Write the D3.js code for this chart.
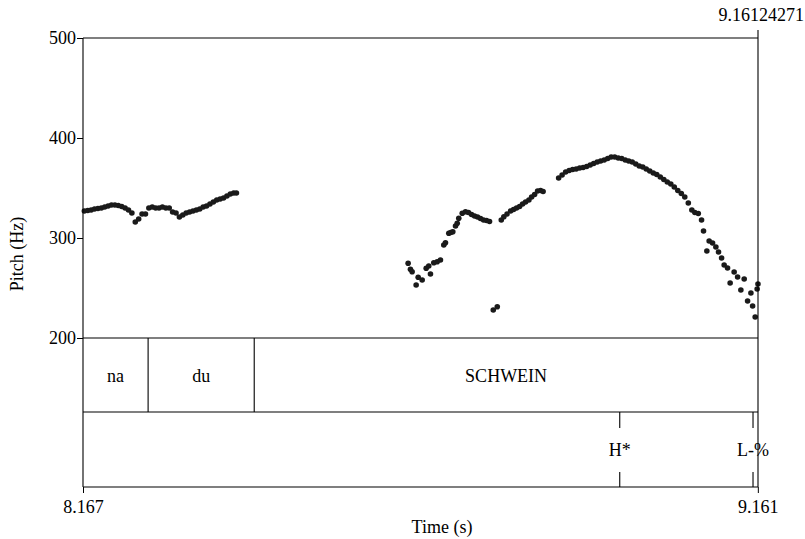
<!DOCTYPE html>
<html><head><meta charset="utf-8">
<script src="https://cdn.jsdelivr.net/npm/d3@7"></script>
<style>body{margin:0;background:#fff}svg{display:block}</style>
</head><body><svg id="c" width="805" height="539"></svg>
<script>
// ---- data ----
const timeDomain = [8.167, 9.16124271];
const pitchTicks = [200, 300, 400, 500];
const timeTicks = [8.167, 9.161];
const endTimeLabel = "9.16124271";

const pitchTime = [
 8.169,8.174,8.179,8.184,8.189,8.194,8.199,8.204,8.209,8.214,8.219,8.224,8.229,8.234,8.239,
 8.244,8.249,8.254,8.259,8.264,8.269,8.274,8.279,8.284,8.289,8.294,8.299,8.304,8.309,8.314,
 8.319,8.324,8.329,8.334,8.339,8.344,8.349,8.354,8.359,8.364,8.369,8.374,8.379,8.384,8.389,8.393,
 8.6459,8.6493,8.6518,8.6577,8.6607,8.6666,8.6725,8.6763,8.6788,8.6837,8.6887,8.6935,8.6984,8.7009,
 8.7058,8.7087,8.7117,8.7157,8.7182,8.7205,8.7256,8.7304,8.7348,8.7393,8.7437,8.7481,8.7525,8.7570,
 8.7614,8.7658,8.7713,8.7772,8.7831,8.7869,8.7916,8.7968,8.8012,8.8056,8.8101,8.8145,8.8189,8.8238,
 8.8278,8.8322,8.8366,8.8410,8.8447,
 8.8676,8.8727,8.8779,8.8831,8.8882,8.8934,8.8986,8.9037,8.9089,8.9141,8.9192,8.9244,8.9295,8.9347,
 8.9399,8.9450,8.9502,8.9554,8.9605,8.9657,8.9708,8.9760,8.9812,8.9863,8.9915,8.9966,9.0018,9.0070,
 9.0121,9.0173,9.0225,9.0276,9.0328,9.0379,9.0431,9.0483,9.0534,9.0586,9.0638,9.0682,9.0733,9.0781,
 9.0810,9.0859,9.0893,9.0943,9.0992,9.1031,9.1076,9.1114,9.1164,9.1202,9.1261,9.1312,9.1360,9.1409,
 9.1459,9.1508,9.1533,9.1571,9.1600,9.1612
];
const pitchHz = [
 327,327.5,328,329,329.5,330,331,332,333,333,332.5,331.5,330,328,325,
 316,319,324,324,330,331,330,330,331,330,330,326,325,321,323,
 325,326,327,328,329,331,332,334,336,338,339,340,342,344,345,345,
 274.7,268.7,266.3,253,260.7,258,269.7,272,264,275.3,276.3,278,293,295.3,
 304.7,305.5,306.3,312,314.7,319.7,324.7,326.3,325.5,323.5,322,321,319.5,318,
 317.5,316.5,228,231.3,318,321.3,324,327,328.5,330,331.5,334,336,338,
 341,343.5,347,347.5,346.5,
 360,363,366,367.5,368.5,369,370,370.5,371.5,373,374.5,376,377,378,
 379.5,381,381,380,379.5,378,377,376,374,372,371,369,367,365,
 363.5,361,358.5,356,354,351,347.5,344.5,341,335,328,325.5,324.5,318,
 307,287,297,295,291,286,280,273,270,255,266,261,248,259,
 237,245,232,221,249,254
];

const wordLabels = ["na", "du", "SCHWEIN"];
const wordStarts = [8.167, 8.2629, 8.4192];
const wordEnds   = [8.2629, 8.4192, 9.16124271];

const toneLabels = ["H*", "L-%"];
const toneTimes  = [8.9576, 9.1539];

// ---- layout ----
const FONT = "'Liberation Serif', 'Times New Roman', Times, 'DejaVu Serif', serif";
const FS = "18px";
const svg = d3.select("#c").style("font-family", FONT);
const L = 83, R = 758, T = 38, P = 338, T1 = 412, B = 487;
const x = d3.scaleLinear().domain(timeDomain).range([L, R]);
const y = d3.scaleLinear().domain([200, 500]).range([P, T]);

const g = svg.append("g");
// pitch dots
g.selectAll("circle.p").data(pitchTime.map((t, i) => [t, pitchHz[i]]))
 .enter().append("circle").attr("class", "p")
 .attr("cx", d => x(d[0])).attr("cy", d => y(d[1])).attr("r", 2.8).attr("fill", "#1a1a1a");

// frame lines
const line = (x1, y1, x2, y2) => g.append("line").attr("x1", x1).attr("y1", y1).attr("x2", x2).attr("y2", y2)
  .attr("stroke", "#000").attr("stroke-width", 1.1);
line(L, T, R, T);
line(L, T, L, B);
line(R, T - 8, R, B);
line(L, P, R, P);
line(L, T1, R, T1);
line(L, B, R, B);

const txt = sel => sel.attr("font-family", FONT).attr("font-size", FS).attr("fill", "#000");

// y axis
const ya = d3.axisLeft(y).tickValues(pitchTicks).tickSize(6).tickPadding(1).tickFormat(d3.format("d"));
const yg = svg.append("g").attr("transform", `translate(${L},0)`).call(ya)
  .attr("font-family", FONT).attr("font-size", FS);
yg.select(".domain").remove();
yg.selectAll("text").call(txt);
yg.selectAll("line").attr("stroke", "#000");

// x axis
const xa = d3.axisBottom(x).tickValues(timeTicks).tickSize(6).tickPadding(7).tickFormat(d3.format(".3f"));
const xg = svg.append("g").attr("transform", `translate(0,${B})`).call(xa)
  .attr("font-family", FONT).attr("font-size", FS);
xg.select(".domain").remove();
xg.selectAll("text").call(txt);
xg.selectAll("line").attr("stroke", "#000");

// end time label
svg.append("text").attr("x", 804).attr("y", 21).attr("text-anchor", "end").call(txt).text(endTimeLabel);

// axis titles
svg.append("text").attr("x", 442).attr("y", 533).attr("text-anchor", "middle").call(txt).text("Time (s)");
svg.append("text").attr("transform", "translate(23,254) rotate(-90)").attr("text-anchor", "middle")
  .call(txt).text("Pitch (Hz)");

// word tier
wordEnds.forEach((e, i) => { if (i < wordEnds.length - 1) line(x(e), P, x(e), T1); });
svg.selectAll("text.w").data(wordLabels).enter().append("text").attr("class", "w")
  .attr("x", (d, i) => (x(wordStarts[i]) + x(wordEnds[i])) / 2).attr("y", 382)
  .attr("text-anchor", "middle").call(txt).text(d => d);

// tone tier
toneTimes.forEach(t => { line(x(t), T1, x(t), 428); line(x(t), 472, x(t), B); });
svg.selectAll("text.t").data(toneLabels).enter().append("text").attr("class", "t")
  .attr("x", (d, i) => x(toneTimes[i])).attr("y", 456)
  .attr("text-anchor", "middle").call(txt).text(d => d);
</script></body></html>
